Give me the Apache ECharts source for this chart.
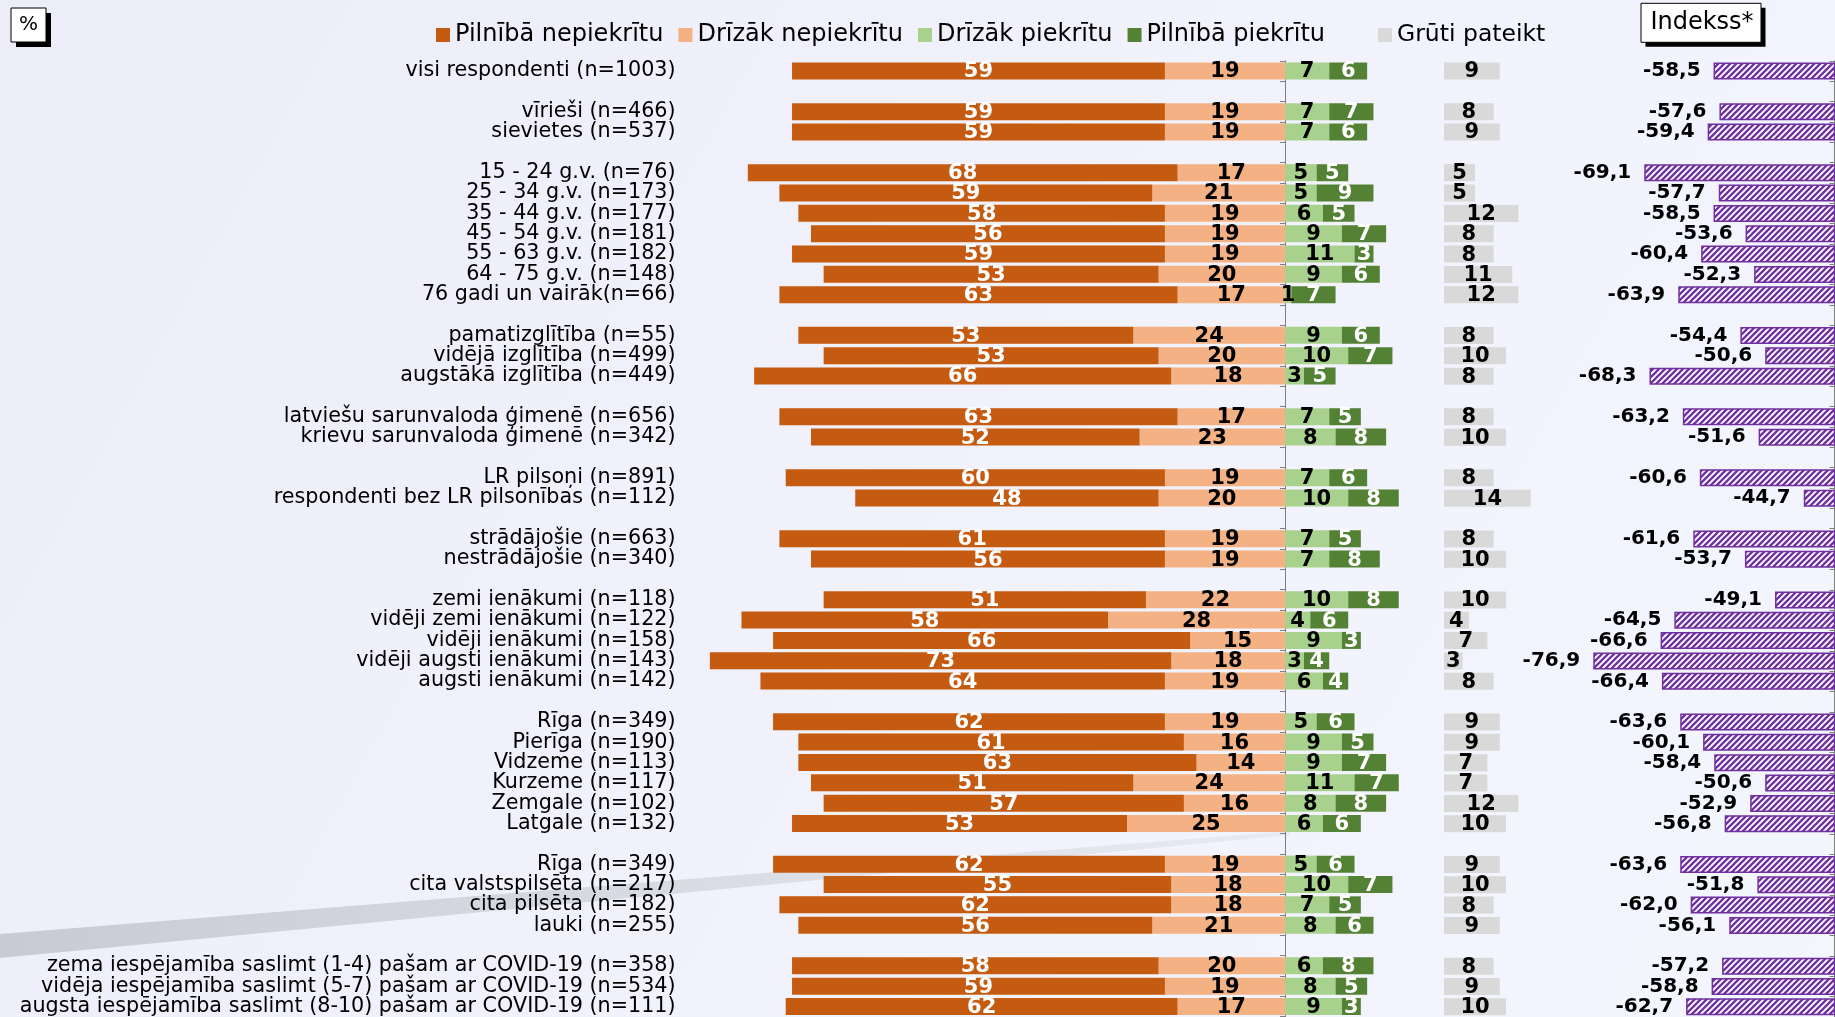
<!DOCTYPE html>
<html><head><meta charset="utf-8">
<script src="https://cdn.jsdelivr.net/npm/echarts@6/dist/echarts.min.js"></script>
<style>html,body{margin:0;padding:0;background:#EFEFFA;}#c{width:1835px;height:1017px;}</style>
</head><body><div id="c"></div>
<script>
const categories = [
 "visi respondenti (n=1003)", "",
 "vīrieši (n=466)", "sievietes (n=537)", "",
 "15 - 24 g.v. (n=76)", "25 - 34 g.v. (n=173)", "35 - 44 g.v. (n=177)", "45 - 54 g.v. (n=181)",
 "55 - 63 g.v. (n=182)", "64 - 75 g.v. (n=148)", "76 gadi un vairāk(n=66)", "",
 "pamatizglītība (n=55)", "vidējā izglītība (n=499)", "augstākā izglītība (n=449)", "",
 "latviešu sarunvaloda ģimenē (n=656)", "krievu sarunvaloda ģimenē (n=342)", "",
 "LR pilsoņi (n=891)", "respondenti bez LR pilsonības (n=112)", "",
 "strādājošie (n=663)", "nestrādājošie (n=340)", "",
 "zemi ienākumi (n=118)", "vidēji zemi ienākumi (n=122)", "vidēji ienākumi (n=158)",
 "vidēji augsti ienākumi (n=143)", "augsti ienākumi (n=142)", "",
 "Rīga (n=349)", "Pierīga (n=190)", "Vidzeme (n=113)", "Kurzeme (n=117)", "Zemgale (n=102)", "Latgale (n=132)", "",
 "Rīga (n=349)", "cita valstspilsēta (n=217)", "cita pilsēta (n=182)", "lauki (n=255)", "",
 "zema iespējamība saslimt (1-4) pašam ar COVID-19 (n=358)",
 "vidēja iespējamība saslimt (5-7) pašam ar COVID-19 (n=534)",
 "augsta iespējamība saslimt (8-10) pašam ar COVID-19 (n=111)"
];
const fullyDisagree = [59,null, 59,59,null, 68,59,58,56,59,53,63,null, 53,53,66,null, 63,52,null, 60,48,null, 61,56,null, 51,58,66,73,64,null, 62,61,63,51,57,53,null, 62,55,62,56,null, 58,59,62];
const ratherDisagree = [19,null, 19,19,null, 17,21,19,19,19,20,17,null, 24,20,18,null, 17,23,null, 19,20,null, 19,19,null, 22,28,15,18,19,null, 19,16,14,24,16,25,null, 19,18,18,21,null, 20,19,17];
const ratherAgree = [7,null, 7,7,null, 5,5,6,9,11,9,1,null, 9,10,3,null, 7,8,null, 7,10,null, 7,7,null, 10,4,9,3,6,null, 5,9,9,11,8,6,null, 5,10,7,8,null, 6,8,9];
const fullyAgree = [6,null, 7,6,null, 5,9,5,7,3,6,7,null, 6,7,5,null, 5,8,null, 6,8,null, 5,8,null, 8,6,3,4,4,null, 6,5,7,7,8,6,null, 6,7,5,6,null, 8,5,3];
const hardToSay = [9,null, 8,9,null, 5,5,12,8,8,11,12,null, 8,10,8,null, 8,10,null, 8,14,null, 8,10,null, 10,4,7,3,8,null, 9,9,7,7,12,10,null, 9,10,8,9,null, 8,9,10];
const indexValues = [-58.5,null, -57.6,-59.4,null, -69.1,-57.7,-58.5,-53.6,-60.4,-52.3,-63.9,null, -54.4,-50.6,-68.3,null, -63.2,-51.6,null, -60.6,-44.7,null, -61.6,-53.7,null, -49.1,-64.5,-66.6,-76.9,-66.4,null, -63.6,-60.1,-58.4,-50.6,-52.9,-56.8,null, -63.6,-51.8,-62.0,-56.1,null, -57.2,-58.8,-62.7];
const legendMain = ["Pilnībā nepiekrītu", "Drīzāk nepiekrītu", "Drīzāk piekrītu", "Pilnībā piekrītu"];
const legendOther = ["Grūti pateikt"];

const FONT = "DejaVu Sans";
const AX = "#7f7f7f";
const neg = v => v == null ? null : -v;

// hatch pattern for index bars
const pc = document.createElement('canvas'); pc.width = 6; pc.height = 6;
const g = pc.getContext('2d');
g.fillStyle = '#ffffff'; g.fillRect(0, 0, 6, 6);
g.strokeStyle = '#7030A0'; g.lineWidth = 2.3; g.beginPath();
g.moveTo(-3, 3); g.lineTo(3, -3); g.moveTo(0, 6); g.lineTo(6, 0); g.moveTo(3, 9); g.lineTo(9, 3);
g.stroke();

function lab(color) {
  return { show: true, position: 'inside', color: color, fontFamily: FONT, fontWeight: 'bold', fontSize: 21,
    offset: [0, 1], formatter: p => Math.abs(p.value) };
}
const BW = 17;
const TOP = 60.8, H = 956.9;

const chart = echarts.init(document.getElementById('c'));
chart.setOption({
  animation: false,
  backgroundColor: { type: 'linear', x: 0, y: 0, x2: 1, y2: 1,
    colorStops: [{ offset: 0, color: '#EDEDF9' }, { offset: 1, color: '#F4F6FE' }] },
  grid: [
    { left: 684.6, top: TOP, width: 726.8, height: H },
    { left: 1444, top: TOP, width: 124, height: H },
    { left: 1573, top: TOP, width: 261.5, height: H }
  ],
  xAxis: [
    { gridIndex: 0, type: 'value', min: -95, max: 20, show: false },
    { gridIndex: 1, type: 'value', min: 0, max: 20, show: false },
    { gridIndex: 2, type: 'value', min: -80, max: -40, show: false }
  ],
  yAxis: [
    { gridIndex: 0, type: 'category', data: categories, inverse: true,
      axisLine: { show: true, onZero: true, lineStyle: { color: AX, width: 1 } },
      axisTick: { show: true, interval: 0, length: 5, lineStyle: { color: AX } },
      axisLabel: { show: false } },
    { gridIndex: 0, type: 'category', data: categories, inverse: true, position: 'left',
      axisLine: { show: false, onZero: false }, axisTick: { show: false },
      axisLabel: { interval: 0, margin: 9, fontFamily: FONT, fontSize: 20.7, color: '#000' } },
    { gridIndex: 1, type: 'category', data: categories, inverse: true, show: false },
    { gridIndex: 2, type: 'category', data: categories, inverse: true, position: 'right',
      axisLine: { show: true, onZero: false, lineStyle: { color: AX, width: 1 } },
      axisTick: { show: true, inside: true, interval: 0, length: 5, lineStyle: { color: AX } },
      axisLabel: { show: false } }
  ],
  legend: [
    { data: legendMain, left: 436, top: 23, padding: 0, itemWidth: 14, itemHeight: 14, itemGap: 15,
      icon: 'rect', selectedMode: false, textStyle: { fontFamily: FONT, fontSize: 24, color: '#000' } },
    { data: legendOther, left: 1378, top: 23, padding: 0, itemWidth: 14, itemHeight: 14,
      icon: 'rect', selectedMode: false, textStyle: { fontFamily: FONT, fontSize: 23.5, color: '#000' } }
  ],
  graphic: [
    { type: 'polygon', z: -1, silent: true,
      shape: { points: [[0, 934], [1290, 831], [1290, 835], [0, 958]] },
      style: { fill: { type: 'linear', x: 0, y: 0, x2: 1, y2: 0,
        colorStops: [{ offset: 0, color: '#C8CBD3' }, { offset: 1, color: '#E8EAF2' }] } } },
    { type: 'rect', z: 100, silent: true, shape: { x: 16, y: 13, width: 35, height: 34 }, style: { fill: '#000' } },
    { type: 'rect', z: 101, silent: true, shape: { x: 11, y: 8, width: 35, height: 34 }, style: { fill: '#fff', stroke: '#000', lineWidth: 1 } },
    { type: 'text', z: 102, silent: true, x: 28.5, y: 25,
      style: { text: '%', fontSize: 20, fontFamily: FONT, align: 'center', verticalAlign: 'middle', fill: '#000' } },
    { type: 'rect', z: 100, silent: true, shape: { x: 1645.5, y: 7.8, width: 120, height: 39 }, style: { fill: '#000' } },
    { type: 'rect', z: 101, silent: true, shape: { x: 1641, y: 3.3, width: 120, height: 39 }, style: { fill: '#fff', stroke: '#000', lineWidth: 1 } },
    { type: 'text', z: 102, silent: true, x: 1702, y: 23,
      style: { text: 'Indekss*', fontSize: 24, fontFamily: FONT, align: 'center', verticalAlign: 'middle', fill: '#000' } }
  ],
  series: [
    { name: 'Drīzāk nepiekrītu', type: 'bar', stack: 'm', xAxisIndex: 0, yAxisIndex: 0, barWidth: BW,
      data: ratherDisagree.map(neg), itemStyle: { color: '#F4B183' }, label: lab('#000') },
    { name: 'Pilnībā nepiekrītu', type: 'bar', stack: 'm', xAxisIndex: 0, yAxisIndex: 0, barWidth: BW,
      data: fullyDisagree.map(neg), itemStyle: { color: '#C55A11' }, label: lab('#fff') },
    { name: 'Drīzāk piekrītu', type: 'bar', stack: 'm', xAxisIndex: 0, yAxisIndex: 0, barWidth: BW,
      data: ratherAgree, itemStyle: { color: '#A9D18E' }, label: lab('#000') },
    { name: 'Pilnībā piekrītu', type: 'bar', stack: 'm', xAxisIndex: 0, yAxisIndex: 0, barWidth: BW,
      data: fullyAgree, itemStyle: { color: '#548235' }, label: lab('#fff') },
    { name: 'Grūti pateikt', type: 'bar', xAxisIndex: 1, yAxisIndex: 2, barWidth: BW,
      data: hardToSay, itemStyle: { color: '#D9D9D9' }, label: lab('#000') },
    { name: 'Indekss', type: 'bar', xAxisIndex: 2, yAxisIndex: 3, barWidth: BW, clip: true,
      data: indexValues,
      itemStyle: { color: { image: pc, repeat: 'repeat' }, borderColor: '#7030A0', borderWidth: 1.5 },
      label: { show: true, position: 'left', distance: 13, color: '#000', fontFamily: FONT, fontWeight: 'bold',
        fontSize: 20, formatter: p => p.value.toFixed(1).replace('.', ',') } }
  ]
});
</script>
</body></html>
